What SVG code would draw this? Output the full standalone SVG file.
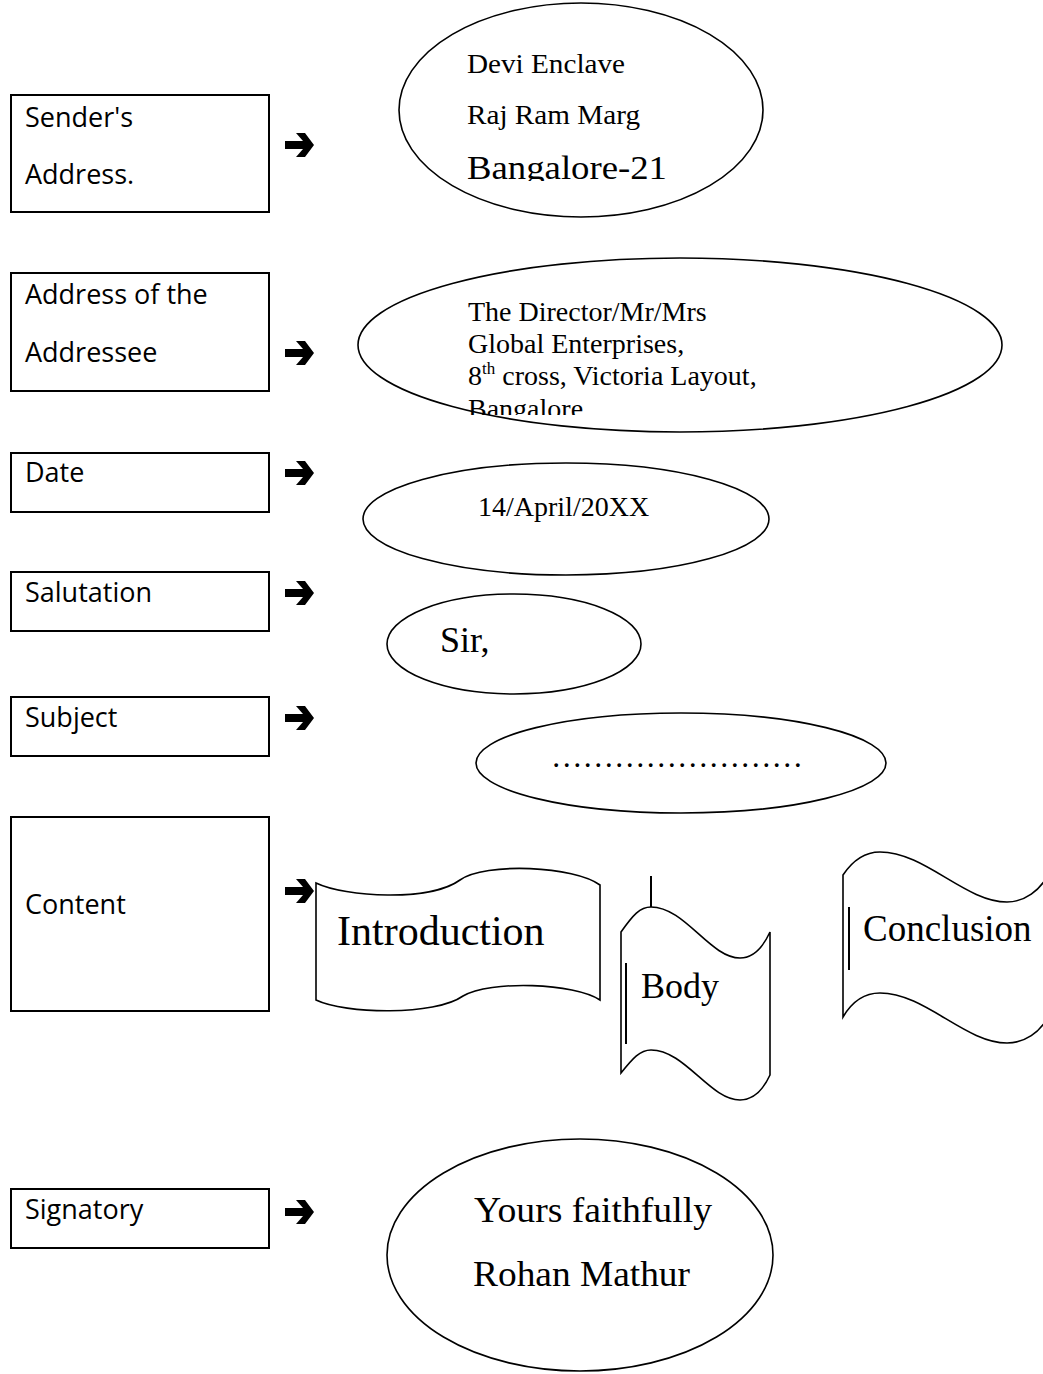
<svg xmlns="http://www.w3.org/2000/svg" width="1043" height="1374" viewBox="0 0 1043 1374">
<style>
.box{fill:#fff;stroke:#000;stroke-width:2}
.shape{fill:#fff;stroke:#000;stroke-width:1.6}
.lbl{font-family:"Open Sans","Noto Sans","DejaVu Sans",sans-serif;font-size:27px;fill:#000}
.ser{font-family:"Liberation Serif","Times New Roman",serif;fill:#000}
.bar{stroke:#000;stroke-width:2}
.arr{fill:#000}
</style>
<defs>
<path id="arrow" class="arr" d="M-29,-4 L-11,-4 L-18,-12 L-9,-12 L0,0 L-9,12 L-18,12 L-11,4 L-29,4 Z"/>
<clipPath id="clip1"><rect x="440" y="20" width="300" height="161"/></clipPath>
<clipPath id="clip2"><rect x="440" y="290" width="400" height="125"/></clipPath>
</defs>
<rect width="1043" height="1374" fill="#fff"/>

<g id="label-sender">
<rect class="box" x="11" y="95" width="258" height="117"/>
<text class="lbl" x="25" y="127">Sender's</text>
<text class="lbl" x="25" y="184">Address.</text>
</g>
<g id="label-addressee">
<rect class="box" x="11" y="273" width="258" height="118"/>
<text class="lbl" x="25" y="304">Address of the</text>
<text class="lbl" x="25" y="362">Addressee</text>
</g>
<g id="label-date">
<rect class="box" x="11" y="453" width="258" height="59"/>
<text class="lbl" x="25" y="482">Date</text>
</g>
<g id="label-salutation">
<rect class="box" x="11" y="572" width="258" height="59"/>
<text class="lbl" x="25" y="602">Salutation</text>
</g>
<g id="label-subject">
<rect class="box" x="11" y="697" width="258" height="59"/>
<text class="lbl" x="25" y="727">Subject</text>
</g>
<g id="label-content">
<rect class="box" x="11" y="817" width="258" height="194"/>
<text class="lbl" x="25" y="914">Content</text>
</g>
<g id="label-signatory">
<rect class="box" x="11" y="1189" width="258" height="59"/>
<text class="lbl" x="25" y="1219">Signatory</text>
</g>

<g id="connectors">
<use href="#arrow" x="314" y="145"/>
<use href="#arrow" x="314" y="353"/>
<use href="#arrow" x="314" y="473"/>
<use href="#arrow" x="314" y="593"/>
<use href="#arrow" x="314" y="718"/>
<use href="#arrow" x="314" y="891"/>
<use href="#arrow" x="314" y="1212"/>
</g>

<g id="sender-address">
<ellipse class="shape" cx="581" cy="110" rx="182" ry="107"/>
<text class="ser" x="467" y="73" font-size="27" textLength="158" lengthAdjust="spacingAndGlyphs">Devi Enclave</text>
<text class="ser" x="467" y="124" font-size="27" textLength="173" lengthAdjust="spacingAndGlyphs">Raj Ram Marg</text>
<text class="ser" x="467" y="179" font-size="34" textLength="200" lengthAdjust="spacingAndGlyphs" clip-path="url(#clip1)">Bangalore-21</text>
</g>

<g id="addressee-address">
<ellipse class="shape" cx="680" cy="345" rx="322" ry="87"/>
<text class="ser" x="468" y="321" font-size="28">The Director/Mr/Mrs</text>
<text class="ser" x="468" y="353" font-size="28">Global Enterprises,</text>
<text class="ser" x="468" y="385" font-size="28">8<tspan font-size="17" dy="-11">th</tspan><tspan dy="11"> cross, Victoria Layout,</tspan></text>
<text class="ser" x="468" y="418" font-size="28" clip-path="url(#clip2)">Bangalore</text>
</g>

<g id="date">
<ellipse class="shape" cx="566" cy="519" rx="203" ry="56"/>
<text class="ser" x="478" y="516" font-size="28">14/April/20XX</text>
</g>

<g id="salutation">
<ellipse class="shape" cx="514" cy="644" rx="127" ry="50"/>
<text class="ser" x="440" y="652" font-size="36">Sir,</text>
</g>

<g id="subject">
<ellipse class="shape" cx="681" cy="763" rx="205" ry="50"/>
<text class="ser" x="551" y="767" font-size="31" textLength="252" lengthAdjust="spacingAndGlyphs">……………………</text>
</g>

<g id="introduction">
<path class="shape" d="M316,883 C345,897 430,902 460,880 C485,862 575,866 600,885 L600,1000 C575,983 490,980 463,996 C435,1016 345,1014 316,1000 Z"/>
<text class="ser" x="337" y="945" font-size="42">Introduction</text>
</g>

<g id="body">
<line class="bar" x1="651" y1="876" x2="651" y2="907"/>
<path class="shape" d="M621,932 C633,915 640,907 651,907 C685,907 710,958 740,958 C755,958 764,945 770,932 L770,1075 C764,1088 755,1100 740,1100 C710,1100 685,1050 651,1050 C640,1050 633,1058 621,1073 Z"/>
<line class="bar" x1="626" y1="963" x2="626" y2="1044"/>
<text class="ser" x="641" y="998" font-size="36">Body</text>
</g>

<g id="conclusion">
<path class="shape" d="M843,875 C853,860 866,852 880,852 C925,852 965,902 1007,902 C1025,902 1040,890 1048,875 L1048,1017 C1040,1032 1025,1043 1007,1043 C965,1043 925,993 880,993 C866,993 853,1000 843,1017 Z"/>
<line class="bar" x1="849" y1="907" x2="849" y2="970"/>
<text class="ser" x="863" y="941" font-size="37">Conclusion</text>
</g>

<g id="signatory">
<ellipse class="shape" cx="580" cy="1255" rx="193" ry="116"/>
<text class="ser" x="474" y="1222" font-size="36" textLength="238" lengthAdjust="spacingAndGlyphs">Yours faithfully</text>
<text class="ser" x="473" y="1286" font-size="36" textLength="217" lengthAdjust="spacingAndGlyphs">Rohan Mathur</text>
</g>
</svg>
